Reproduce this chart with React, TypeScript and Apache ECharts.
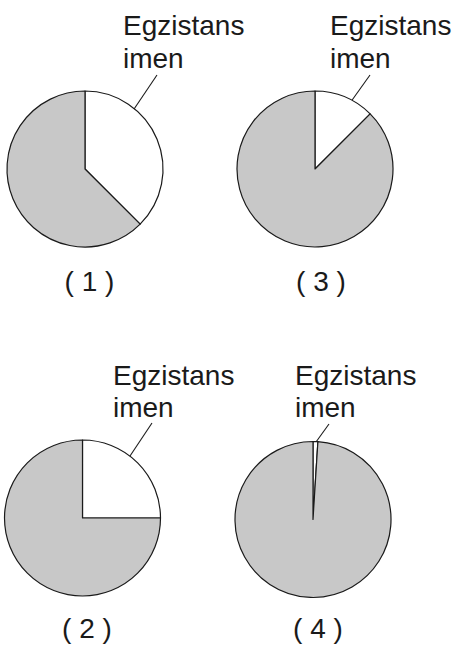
import React, { useEffect, useRef } from "react";
import * as echarts from "echarts";

const categories = ["Egzistans imen", "Rest"];
const pie1 = [37.5, 62.5];
const pie2 = [25, 75];
const pie3 = [12.5, 87.5];
const pie4 = [1, 99];
const captions = ["( 1 )", "( 2 )", "( 3 )", "( 4 )"];
const labelLines = ["Egzistans", "imen"];

const GREY = "#c8c8c8";
const INK = "#1a1a1a";
const FONT = "Liberation Sans, Arial, Helvetica, sans-serif";

function pieSeries(values: number[], center: [number, number]) {
  return {
    type: "pie",
    center,
    radius: 78,
    startAngle: 90,
    clockwise: true,
    silent: true,
    label: { show: false },
    labelLine: { show: false },
    emphasis: { disabled: true },
    itemStyle: { borderColor: INK, borderWidth: 1.2 },
    data: values.map((v, i) => ({
      name: categories[i],
      value: v,
      itemStyle: { color: i === 0 ? "#ffffff" : GREY },
    })),
  };
}

function annot(tx: number, ty1: number, ty2: number, line: number[]) {
  return [
    {
      type: "text",
      style: { x: tx, y: ty1, text: labelLines[0], font: `28px ${FONT}`, fill: INK, textVerticalAlign: "middle" },
    },
    {
      type: "text",
      style: { x: tx, y: ty2, text: labelLines[1], font: `28px ${FONT}`, fill: INK, textVerticalAlign: "middle" },
    },
    {
      type: "line",
      shape: { x1: line[0], y1: line[1], x2: line[2], y2: line[3] },
      style: { stroke: INK, lineWidth: 1.1 },
    },
  ];
}

function caption(text: string, x: number, y: number) {
  return {
    type: "text",
    style: { x, y, text, font: `28px ${FONT}`, fill: INK, textAlign: "center", textVerticalAlign: "middle" },
  };
}

export default function App() {
  const ref = useRef<HTMLDivElement>(null);
  useEffect(() => {
    if (!ref.current) return;
    const chart = echarts.init(ref.current, null, { renderer: "svg" });
    chart.setOption({
      animation: false,
      backgroundColor: "#ffffff",
      series: [
        pieSeries(pie1, [85, 169]),
        pieSeries(pie3, [315, 169]),
        pieSeries(pie2, [82.5, 518]),
        pieSeries(pie4, [313, 519.5]),
      ],
      graphic: [
        ...annot(123, 25, 58, [128, 118, 157, 75]),
        ...annot(330, 25, 58, [340, 117, 370, 75]),
        ...annot(113, 375, 407, [122, 468, 152, 423]),
        ...annot(295, 375, 407, [316, 442, 329, 424]),
        caption(captions[0], 89.5, 281),
        caption(captions[2], 321, 281),
        caption(captions[1], 87, 628),
        caption(captions[3], 318, 628),
      ],
    });
    return () => chart.dispose();
  }, []);
  return (
    <div
      ref={ref}
      style={{ position: "absolute", left: 0, top: 0, width: 457, height: 645 }}
    />
  );
}
